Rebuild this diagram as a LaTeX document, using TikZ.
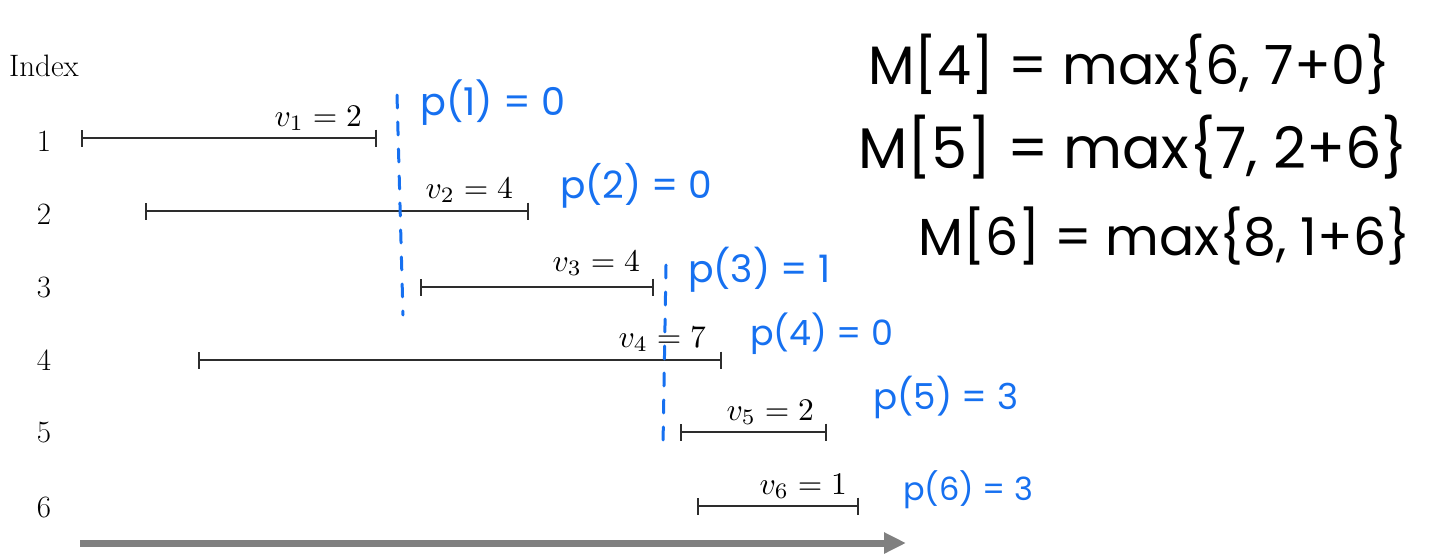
\documentclass[tikz,border=0pt]{standalone}
\usepackage{fontspec}
\newfontfamily\hand{Poppins}
\usetikzlibrary{arrows.meta}
\definecolor{pen}{RGB}{22,112,240}
\definecolor{barc}{RGB}{45,45,45}
\definecolor{axis}{RGB}{128,128,128}
\newcommand{\fitw}[2]{\resizebox{#1}{!}{#2}}
\newcommand{\wlab}[2]{\scalebox{3.15}{$v_{#1} = #2$}}
\begin{document}
\begin{tikzpicture}[x=1pt,y=-1pt,
  interval/.style={draw=barc, line width=1.6pt, {Bar[width=17pt]}-{Bar[width=17pt]}},
  idx/.style={font=\fontsize{31}{34}\selectfont, inner sep=0},
  vlab/.style={anchor=base east, inner sep=0},
  plab/.style={text=pen, font=\hand\fontsize{32}{36}\selectfont, anchor=base west, inner sep=0},
  eq/.style={font=\hand\fontsize{46}{52}\selectfont, anchor=base west, inner sep=0},
  cut/.style={draw=pen, line width=3pt, line cap=round, dash pattern=on 13pt off 14pt},
  timeaxis/.style={draw=axis, line width=7pt, -{Triangle[length=22pt,width=20pt]}},
]
\useasboundingbox (0,0) rectangle (1429,555);

% header and row indices
\node[font=\fontsize{31}{34}\selectfont, anchor=base west, inner sep=0] (hdr) at (9,76) {Index};
\node[idx] (r1) at (44,141) {1};
\node[idx] (r2) at (44,214) {2};
\node[idx] (r3) at (44,287) {3};
\node[idx] (r4) at (44,360) {4};
\node[idx] (r5) at (44,433) {5};
\node[idx] (r6) at (44,507) {6};

% intervals
\coordinate (s1) at (81,138);  \coordinate (e1) at (377,138);
\coordinate (s2) at (145,211); \coordinate (e2) at (529,211);
\coordinate (s3) at (420,287); \coordinate (e3) at (654,287);
\coordinate (s4) at (198,360); \coordinate (e4) at (722,360);
\coordinate (s5) at (680,432); \coordinate (e5) at (827,432);
\coordinate (s6) at (697,506); \coordinate (e6) at (859,506);
\foreach \i in {1,...,6} { \draw[interval] (s\i) -- (e\i); }

% weights
\node[vlab] (v1) at (362,126) {\wlab{1}{2}};
\node[vlab] (v2) at (513,198) {\wlab{2}{4}};
\node[vlab] (v3) at (640,271) {\wlab{3}{4}};
\node[vlab] (v4) at (706,347) {\wlab{4}{7}};
\node[vlab] (v5) at (814,420) {\wlab{5}{2}};
\node[vlab] (v6) at (847,494) {\wlab{6}{1}};

% blue cut lines
\coordinate (c1a) at (397,95);  \coordinate (c1b) at (403,315);
\coordinate (c2a) at (666,265); \coordinate (c2b) at (663,445);
\draw[cut] (c1a) -- (c1b);
\draw[cut] (c2a) -- (c2b);

% p labels
\node[plab] (p1) at (420,115) {\fitw{145pt}{p(1) = 0}};
\node[plab] (p2) at (560,198) {\fitw{152pt}{p(2) = 0}};
\node[plab] (p3) at (688,282) {\fitw{142pt}{p(3) = 1}};
\node[plab] (p4) at (750,345) {\fitw{143pt}{p(4) = 0}};
\node[plab] (p5) at (873,409) {\fitw{145pt}{p(5) = 3}};
\node[plab] (p6) at (903,500) {\fitw{130pt}{p(6) = 3}};

% equations
\node[eq] (m4) at (868,84) {\fitw{522pt}{M[4] = max\{6, 7+0\}}};
\node[eq] (m5) at (858,168) {\fitw{550pt}{M[5] = max\{7, 2+6\}}};
\node[eq] (m6) at (918,255) {\fitw{492pt}{M[6] = max\{8, 1+6\}}};

% time axis
\coordinate (ta) at (80,543); \coordinate (tb) at (906,543);
\draw[timeaxis] (ta) -- (tb);
\end{tikzpicture}
\end{document}
